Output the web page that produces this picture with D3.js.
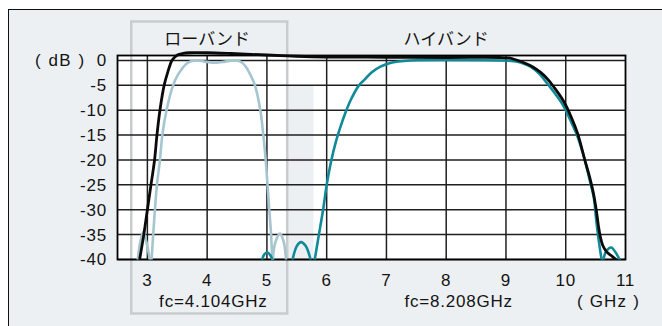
<!DOCTYPE html>
<html>
<head>
<meta charset="utf-8">
<script src="https://cdn.jsdelivr.net/npm/d3@7"></script>
<style>
  html, body { margin: 0; padding: 0; background: #ffffff; }
  svg { display: block; }
  text { font-family: "Liberation Sans", Arial, sans-serif; fill: #141414; }
  .jp { font-family: "Noto Sans CJK JP", sans-serif; }
</style>
</head>
<body>
<svg id="chart" width="662" height="326"></svg>
<script>
// Frequency axis (GHz) and level axis (dB)
const xTicks = [3, 4, 5, 6, 7, 8, 9, 10, 11];
const yTicks = [0, -5, -10, -15, -20, -25, -30, -35, -40];
const xDomain = [2.5, 11];
const yDomain = [-40, 1];

const bandNames = ["ローバンド", "ハイバンド"];
const bandCenters = [4.104, 8.208];
const centerLabels = ["fc=4.104GHz", "fc=8.208GHz"];

// Low-band filter response [GHz, dB]
const lowBandLobeLeft = [[2.84, -40], [2.88, -36.5], [2.93, -34.5], [2.98, -36.3], [3.04, -40]];
const lowBandMain = [
  [3.07, -40], [3.12, -31], [3.16, -25], [3.21, -20], [3.25, -15], [3.32, -10],
  [3.43, -5], [3.5, -3.1], [3.57, -1.8], [3.65, -0.7], [3.74, -0.1], [3.85, 0],
  [3.95, -0.2], [4.1, -0.45], [4.25, -0.3], [4.4, -0.05], [4.5, 0], [4.58, -0.4],
  [4.65, -1.3], [4.72, -2.8], [4.8, -5], [4.89, -10], [4.94, -15], [4.98, -20],
  [5.01, -25], [5.04, -30], [5.07, -35], [5.09, -40]
];
const lowBandLobeRight = [[5.1, -40], [5.14, -36.6], [5.22, -34.8], [5.28, -36.4], [5.32, -40]];

// High-band filter response [GHz, dB]
const highBandLobeA = [[4.92, -40], [4.96, -38.9], [5.01, -38.6], [5.06, -39.2], [5.09, -40]];
const highBandLobeB = [[5.43, -40], [5.5, -37.3], [5.57, -36.5], [5.65, -37.3], [5.73, -40]];
const highBandMain = [
  [5.8, -40], [5.87, -35], [5.94, -30], [6.0, -25], [6.07, -20.5], [6.15, -16.5],
  [6.24, -13], [6.32, -10.3], [6.4, -8], [6.54, -5], [6.63, -3.9], [6.75, -2.4],
  [6.9, -1.25], [7.05, -0.55], [7.2, -0.2], [7.4, 0], [8.9, 0], [9.05, -0.05],
  [9.19, -0.25], [9.3, -0.65], [9.41, -1.25], [9.55, -2.6], [9.69, -4.6],
  [9.83, -6.8], [9.97, -9.3], [10.1, -12.6], [10.2, -15.4], [10.33, -20.5],
  [10.4, -24], [10.47, -27.6], [10.51, -32], [10.55, -36], [10.6, -40]
];
const highBandLobeC = [[10.63, -40], [10.68, -38.3], [10.76, -37.6], [10.83, -38.5], [10.9, -40]];

// Combined (diplexer) response [GHz, dB]
const combined = [
  [2.87, -40], [2.94, -35], [3.0, -30], [3.06, -25], [3.12, -20], [3.16, -15],
  [3.21, -10], [3.28, -5], [3.34, -2.4], [3.41, 0], [3.46, 0.7], [3.52, 1.2],
  [3.6, 1.45], [3.7, 1.55], [4.0, 1.55], [4.4, 1.4], [5.0, 1.1], [5.5, 0.85],
  [6.0, 0.7], [7.0, 0.65], [8.0, 0.6], [8.9, 0.6], [9.05, 0.5], [9.15, 0.2],
  [9.25, -0.2], [9.35, -0.7], [9.45, -1.3], [9.58, -2.4], [9.7, -3.8], [9.83, -5.8],
  [9.97, -8.3], [10.1, -11.6], [10.2, -14.7], [10.33, -20.5], [10.39, -23],
  [10.46, -26.5], [10.51, -30], [10.55, -33.5], [10.58, -35.5], [10.62, -37.2],
  [10.68, -38.4], [10.76, -39.2], [10.84, -40]
];

const svg = d3.select("#chart");
const W = 662, H = 326;
const plot = { left: 117.5, right: 625.5, top: 55.5, bottom: 259.5 };

const x = d3.scaleLinear().domain(xDomain).range([plot.left, plot.right]);
const y = d3.scaleLinear().domain(yDomain).range([plot.bottom, plot.top]);

// Panel background
svg.append("rect")
  .attr("x", 8.5).attr("y", 9.5).attr("width", W).attr("height", H)
  .attr("fill", "#edf0f2").attr("stroke", "#111").attr("stroke-width", 1);

// Plot area
svg.append("rect")
  .attr("x", plot.left).attr("y", plot.top)
  .attr("width", plot.right - plot.left).attr("height", plot.bottom - plot.top)
  .attr("fill", "#ffffff");

// Light shaded strip beside the low-band frame
svg.append("rect")
  .attr("x", x(5.35)).attr("y", y(-5))
  .attr("width", x(5.78) - x(5.35)).attr("height", y(-40) - y(-5))
  .attr("fill", "#edf0f2");

// Low-band frame
svg.append("rect")
  .attr("x", x(2.73)).attr("y", 21.5)
  .attr("width", x(5.34) - x(2.73)).attr("height", 292)
  .attr("fill", "none").attr("stroke", "#c9ccce").attr("stroke-width", 2.5);

// Grid
const grid = svg.append("g").attr("stroke", "#1f1f1f").attr("stroke-width", 1.5);
grid.selectAll("line.v").data(xTicks.filter(t => t < xDomain[1]))
  .join("line")
  .attr("x1", d => x(d)).attr("x2", d => x(d))
  .attr("y1", plot.top).attr("y2", plot.bottom);
grid.selectAll("line.h").data(yTicks)
  .join("line")
  .attr("x1", plot.left).attr("x2", plot.right)
  .attr("y1", d => y(d)).attr("y2", d => y(d));

// Plot frame
svg.append("rect")
  .attr("x", plot.left).attr("y", plot.top)
  .attr("width", plot.right - plot.left).attr("height", plot.bottom - plot.top)
  .attr("fill", "none").attr("stroke", "#000").attr("stroke-width", 1.8);

// Curves
svg.append("clipPath").attr("id", "clip")
  .append("rect")
  .attr("x", plot.left).attr("y", plot.top - 12)
  .attr("width", plot.right - plot.left).attr("height", plot.bottom - plot.top + 12);

const line = d3.line()
  .x(d => x(d[0])).y(d => y(d[1]))
  .curve(d3.curveCatmullRom.alpha(0.5));

const curves = svg.append("g").attr("clip-path", "url(#clip)")
  .attr("fill", "none").attr("stroke-linejoin", "round").attr("stroke-linecap", "round");

[lowBandLobeLeft, lowBandMain, lowBandLobeRight].forEach(seg =>
  curves.append("path").attr("d", line(seg)).attr("stroke", "#a5c5d0").attr("stroke-width", 2.6));
[highBandLobeA, highBandLobeB, highBandMain, highBandLobeC].forEach(seg =>
  curves.append("path").attr("d", line(seg)).attr("stroke", "#108a99").attr("stroke-width", 2.6));
curves.append("path").attr("d", line(combined)).attr("stroke", "#0a0a0a").attr("stroke-width", 2.8);

// Axis labels
const fs = 17;
svg.append("g").selectAll("text").data(yTicks).join("text")
  .attr("x", 107).attr("y", d => y(d)).attr("dy", "0.35em")
  .attr("text-anchor", "end").attr("font-size", fs).attr("letter-spacing", 0.8)
  .text(d => d);

svg.append("text")
  .attr("x", 35).attr("y", y(0)).attr("dy", "0.35em")
  .attr("font-size", fs).attr("letter-spacing", 1.5)
  .text("( dB )");

svg.append("g").selectAll("text").data(xTicks).join("text")
  .attr("x", d => x(d)).attr("y", 285.5)
  .attr("text-anchor", "middle").attr("font-size", fs).attr("letter-spacing", 0.8)
  .text(d => d);

svg.append("g").selectAll("text").data(centerLabels).join("text")
  .attr("x", (d, i) => x(bandCenters[i])).attr("y", 306.5)
  .attr("text-anchor", "middle").attr("font-size", fs).attr("letter-spacing", 0.8)
  .text(d => d);

svg.append("text")
  .attr("x", 608.5).attr("y", 306.5)
  .attr("text-anchor", "middle").attr("font-size", fs).attr("letter-spacing", 1.2)
  .text("( GHz )");

svg.append("g").selectAll("text").data(bandNames).join("text")
  .attr("class", "jp")
  .attr("x", (d, i) => x([4.0, 8.0][i])).attr("y", 45)
  .attr("text-anchor", "middle").attr("font-size", 17)
  .text(d => d);
</script>
</body>
</html>
